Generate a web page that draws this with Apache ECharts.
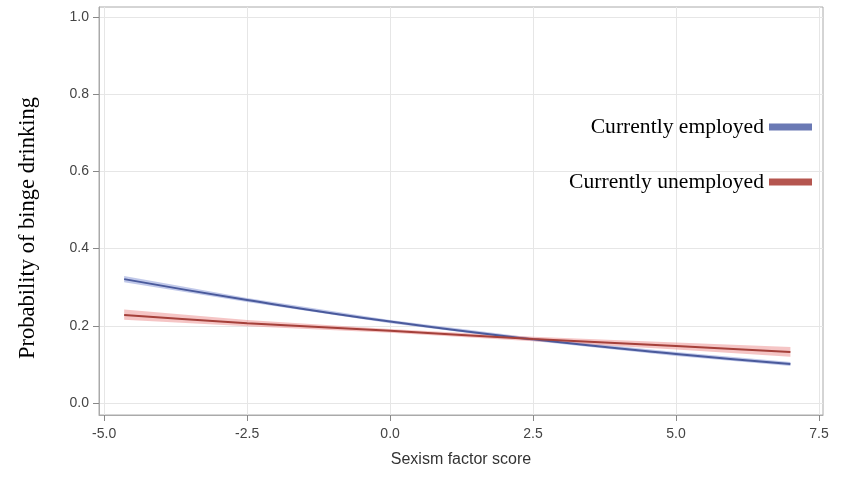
<!DOCTYPE html>
<html lang="en">
<head>
<meta charset="UTF-8" />
<title>Probability of binge drinking</title>
<style>
  html, body { margin: 0; padding: 0; background: #fff; }
  #chart { width: 843px; height: 478px; }
</style>
</head>
<body>
<div id="chart"></div>
<script src="https://cdn.jsdelivr.net/npm/echarts@6/dist/echarts.min.js"></script>
<script>
  // sexism factor score points
  const scores = [-4.65, -2.5, 0, 2.5, 5, 7];

  // Currently employed: fitted probability and confidence band
  const employed = [0.321, 0.267, 0.211, 0.165, 0.127, 0.101];
  const employedLo = [0.313, 0.262, 0.207, 0.161, 0.122, 0.096];
  const employedHi = [0.329, 0.272, 0.215, 0.169, 0.132, 0.106];

  // Currently unemployed
  const unemployed = [0.228, 0.207, 0.187, 0.166, 0.148, 0.132];
  const unemployedLo = [0.216, 0.199, 0.182, 0.160, 0.139, 0.120];
  const unemployedHi = [0.242, 0.215, 0.192, 0.172, 0.157, 0.145];

  const xTicks = [-5.0, -2.5, 0.0, 2.5, 5.0, 7.5];
  const yTicks = [0.0, 0.2, 0.4, 0.6, 0.8, 1.0];

  const pairs = ys => scores.map((x, i) => [x, ys[i]]);

  // confidence band drawn as one closed polygon through the axis scales
  function band(lo, hi, color) {
    return {
      type: 'custom', silent: true, z: 1,
      data: scores.map((x, i) => [x, lo[i], hi[i]]),
      renderItem: (params, api) => {
        if (params.dataIndex !== 0) return null;
        const top = scores.map((x, i) => api.coord([x, hi[i]]));
        const bottom = scores.map((x, i) => api.coord([x, lo[i]])).reverse();
        return {
          type: 'polygon',
          shape: { points: top.concat(bottom) },
          style: { fill: color }
        };
      },
      encode: { x: 0, y: [1, 2] }
    };
  }

  const chart = echarts.init(document.getElementById('chart'));
  const tickFont = { fontFamily: 'Arial, "Liberation Sans", sans-serif', fontSize: 14, color: '#444' };
  const serif = '"Liberation Serif", "Times New Roman", serif';

  chart.setOption({
    animation: false,
    grid: {
      left: 99, top: 7, right: 20, bottom: 63,
      show: true, borderColor: '#aaa', borderWidth: 1
    },
    graphic: [{
      type: 'text', x: 28, y: 228, rotation: Math.PI / 2,
      style: {
        text: 'Probability of binge drinking', font: '22.5px ' + serif,
        fill: '#000', align: 'center', verticalAlign: 'middle'
      }
    }],
    legend: [
      {
        data: ['Currently employed'], orient: 'vertical', right: 31, top: 116,
        padding: 0, align: 'right', icon: 'rect', itemWidth: 43, itemHeight: 7,
        textStyle: { fontFamily: serif, fontSize: 21.6, color: '#000' }
      },
      {
        data: ['Currently unemployed'], orient: 'vertical', right: 31, top: 171,
        padding: 0, align: 'right', icon: 'rect', itemWidth: 43, itemHeight: 7,
        textStyle: { fontFamily: serif, fontSize: 21.6, color: '#000' }
      }
    ],
    xAxis: {
      type: 'value', min: -5.09, max: 7.57,
      name: 'Sexism factor score', nameLocation: 'middle', nameGap: 37,
      nameTextStyle: { fontFamily: 'Arial, "Liberation Sans", sans-serif', fontSize: 16, color: '#333' },
      axisLine: { show: true, onZero: false, lineStyle: { color: '#aaa' } },
      axisTick: { show: true, length: 6, customValues: xTicks, lineStyle: { color: '#888' } },
      axisLabel: Object.assign({ customValues: xTicks, margin: 12, formatter: v => v.toFixed(1) }, tickFont),
      splitLine: { show: true, lineStyle: { color: '#e6e6e6' } }
    },
    yAxis: {
      type: 'value', min: -0.031, max: 1.026,
      axisLine: { show: true, onZero: false, lineStyle: { color: '#aaa' } },
      axisTick: { show: true, length: 6, customValues: yTicks, lineStyle: { color: '#888' } },
      axisLabel: Object.assign({ customValues: yTicks, margin: 10, formatter: v => v.toFixed(1) }, tickFont),
      splitLine: { show: true, lineStyle: { color: '#e6e6e6' } }
    },
    series: [
      band(employedLo, employedHi, 'rgba(140,155,215,0.55)'),
      band(unemployedLo, unemployedHi, 'rgba(235,140,140,0.5)'),
      {
        name: 'Currently employed', type: 'line', data: pairs(employed), z: 3,
        smooth: true, symbol: 'none', color: '#6a79b4',
        lineStyle: { color: '#4a5a9c', width: 2 }
      },
      {
        name: 'Currently unemployed', type: 'line', data: pairs(unemployed), z: 3,
        smooth: true, symbol: 'none', color: '#b5564f',
        lineStyle: { color: '#a5403a', width: 2 }
      }
    ]
  });
</script>
</body>
</html>
